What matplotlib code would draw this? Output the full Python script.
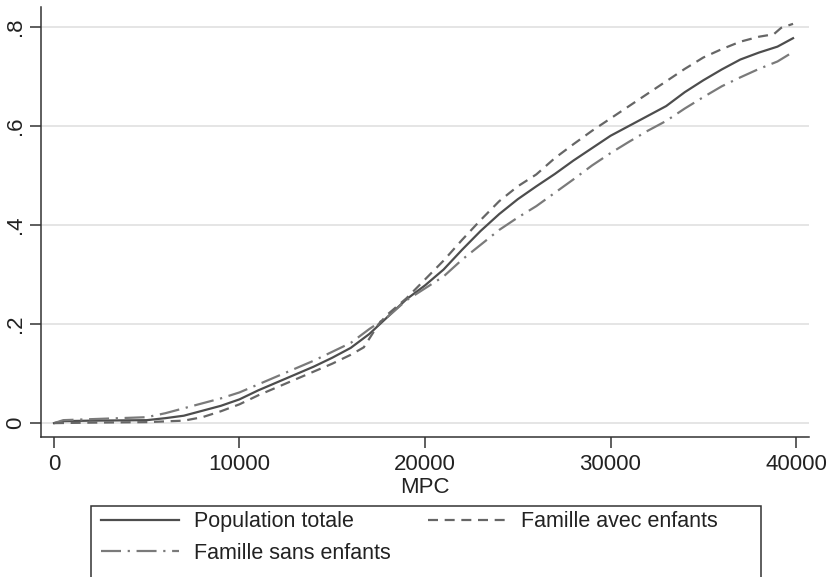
import numpy as np
import matplotlib.pyplot as plt
from matplotlib.patches import Rectangle

plt.rcParams['font.family'] = ['Liberation Sans', 'DejaVu Sans']

# courbes (MPC, part cumulée)
x_tot = [0, 500, 2000, 5000, 6000, 7000, 8000, 9000, 10000, 11000, 12000, 13000, 14000,
         15000, 16000, 17000, 18000, 19000, 20000, 21000, 22000, 23000, 24000, 25000,
         26000, 27000, 28000, 29000, 30000, 31000, 32000, 33000, 34000, 35000, 36000,
         37000, 38000, 39000, 39840]
y_tot = [0, 0.004, 0.005, 0.006, 0.01, 0.015, 0.025, 0.035, 0.048, 0.066, 0.082, 0.098, 0.114,
         0.132, 0.152, 0.18, 0.215, 0.25, 0.278, 0.31, 0.35, 0.388, 0.422, 0.452,
         0.478, 0.503, 0.53, 0.555, 0.58, 0.6, 0.62, 0.64, 0.668, 0.692, 0.714,
         0.734, 0.748, 0.76, 0.777]

x_avec = [0, 2000, 5000, 7000, 8000, 9000, 10000, 11000, 12000, 13000, 14000, 15000,
          16000, 16700, 17500, 18000, 19000, 20000, 21000, 22000, 23000, 24000, 25000,
          26000, 27000, 28000, 29000, 30000, 31000, 32000, 33000, 34000, 35000, 36000,
          37000, 38000, 38800, 39200, 39840]
y_avec = [0, 0.001, 0.002, 0.005, 0.012, 0.024, 0.038, 0.056, 0.072, 0.088, 0.104, 0.12,
          0.138, 0.153, 0.2, 0.22, 0.252, 0.29, 0.328, 0.37, 0.41, 0.448, 0.478,
          0.502, 0.535, 0.563, 0.59, 0.615, 0.64, 0.665, 0.69, 0.715, 0.738, 0.755,
          0.77, 0.78, 0.785, 0.798, 0.806]

x_sans = [0, 500, 2000, 5000, 6000, 7000, 8000, 9000, 10000, 11000, 12000, 13000, 14000,
          15000, 16000, 17000, 18000, 19000, 20000, 21000, 22000, 23000, 24000, 25000,
          26000, 27000, 28000, 29000, 30000, 31000, 32000, 33000, 34000, 35000, 36000,
          37000, 38000, 39000, 39700]
y_sans = [0, 0.006, 0.008, 0.012, 0.02, 0.03, 0.04, 0.05, 0.062, 0.078, 0.094, 0.11, 0.126,
          0.144, 0.162, 0.19, 0.215, 0.248, 0.272, 0.296, 0.33, 0.36, 0.39, 0.415,
          0.438, 0.465, 0.492, 0.52, 0.545, 0.568, 0.59, 0.61, 0.635, 0.658, 0.68,
          0.698, 0.715, 0.73, 0.746]

labels = ['Population totale', 'Famille sans enfants', 'Famille avec enfants']
yticks = [0, 0.2, 0.4, 0.6, 0.8]
ytick_labels = ['0', '.2', '.4', '.6', '.8']
xticks = [0, 10000, 20000, 30000, 40000]

fig = plt.figure(figsize=(8.3, 5.77), dpi=100)
ax = fig.add_axes([41 / 830, 1 - 437 / 577, (809 - 41) / 830, (437 - 7) / 577])

l1, = ax.plot(x_tot, y_tot, color='#4d4d4d', lw=1.6, ls='-')
l3, = ax.plot(x_sans, y_sans, color='#7a7a7a', lw=1.6, dashes=(9, 3, 1, 3))
l2, = ax.plot(x_avec, y_avec, color='#666666', lw=1.6, dashes=(4.5, 3))

ax.set_xlim(-700, 40700)
ax.set_ylim(-0.028, 0.84)
ax.set_yticks(yticks)
ax.set_yticklabels(ytick_labels, rotation=90, va='center')
ax.set_xticks(xticks)
ax.grid(axis='y', color='#e3e3e3', lw=1.3)
ax.set_axisbelow(True)
for s in ['top', 'right']:
    ax.spines[s].set_visible(False)
for s in ['left', 'bottom']:
    ax.spines[s].set_color('#333333')
    ax.spines[s].set_linewidth(1.1)
ax.tick_params(length=8, width=1.1, color='#333333', labelsize=16, labelcolor='#222222')
ax.tick_params(axis='x', pad=4)
ax.tick_params(axis='y', pad=3)
ax.set_xlabel('MPC', fontsize=16, labelpad=2, color='#222222')

leg = fig.legend([l1, l3, l2], labels, ncol=2, loc='upper left',
                 bbox_to_anchor=(97 / 830, 1 - 507 / 577), frameon=False, fontsize=15.5,
                 handlelength=3.6, handletextpad=0.7, columnspacing=1.75,
                 labelspacing=0.48, borderaxespad=0, borderpad=0.2)
for t in leg.get_texts():
    t.set_color('#222222')
fig.add_artist(Rectangle((91 / 830, -0.1), (761 - 91) / 830, 0.1 + (577 - 506) / 577,
                         transform=fig.transFigure, fill=False, ec='#333333', lw=1.1))

fig.savefig('out.png', dpi=100)
